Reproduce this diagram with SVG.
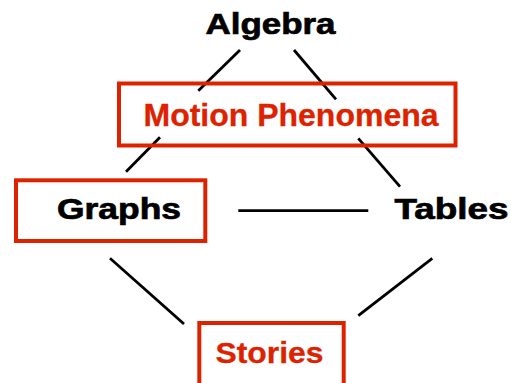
<svg xmlns="http://www.w3.org/2000/svg" width="511" height="383" viewBox="0 0 511 383">
<style>
.box{fill:none;stroke:#DD2200;stroke-width:4}
.t{font-family:"Liberation Sans",Arial,sans-serif;font-weight:bold}
.blk{fill:#000;stroke:#000;stroke-width:0.7}
.red{fill:#DD2200;stroke:#DD2200;stroke-width:0.3}
.ln{stroke:#000;stroke-width:2.8;fill:none}
</style>
<rect width="511" height="383" fill="#fff"/>
<g id="connectors">
<line class="ln" x1="240" y1="50" x2="198.3" y2="90.7"/>
<line class="ln" x1="160" y1="137.3" x2="126" y2="171.7"/>
<line class="ln" x1="294" y1="50" x2="336" y2="99.3"/>
<line class="ln" x1="358.3" y1="138.3" x2="400" y2="186.7"/>
<line class="ln" x1="238.3" y1="210.7" x2="368.3" y2="210.7"/>
<line class="ln" x1="110" y1="258.3" x2="184" y2="324"/>
<line class="ln" x1="432.3" y1="258.3" x2="358.3" y2="315.7"/>
</g>
<g id="algebra">
<text class="t blk" x="205.5" y="34" font-size="29.5" textLength="130" lengthAdjust="spacingAndGlyphs">Algebra</text>
</g>
<g id="motion">
<rect class="box" x="119" y="83.5" width="336.5" height="62"/>
<text class="t red" x="143.5" y="126" font-size="31.5" textLength="295" lengthAdjust="spacingAndGlyphs">Motion Phenomena</text>
</g>
<g id="graphs">
<rect class="box" x="16" y="180.3" width="189.3" height="60.7"/>
<text class="t blk" x="57" y="219.3" font-size="29.5" textLength="124" lengthAdjust="spacingAndGlyphs">Graphs</text>
</g>
<g id="tables">
<text class="t blk" x="394.5" y="219" font-size="29.5" textLength="114" lengthAdjust="spacingAndGlyphs">Tables</text>
</g>
<g id="stories">
<rect class="box" x="199.3" y="323" width="144.4" height="70"/>
<text class="t red" x="215.5" y="363.3" font-size="30" textLength="108" lengthAdjust="spacingAndGlyphs">Stories</text>
</g>
</svg>
